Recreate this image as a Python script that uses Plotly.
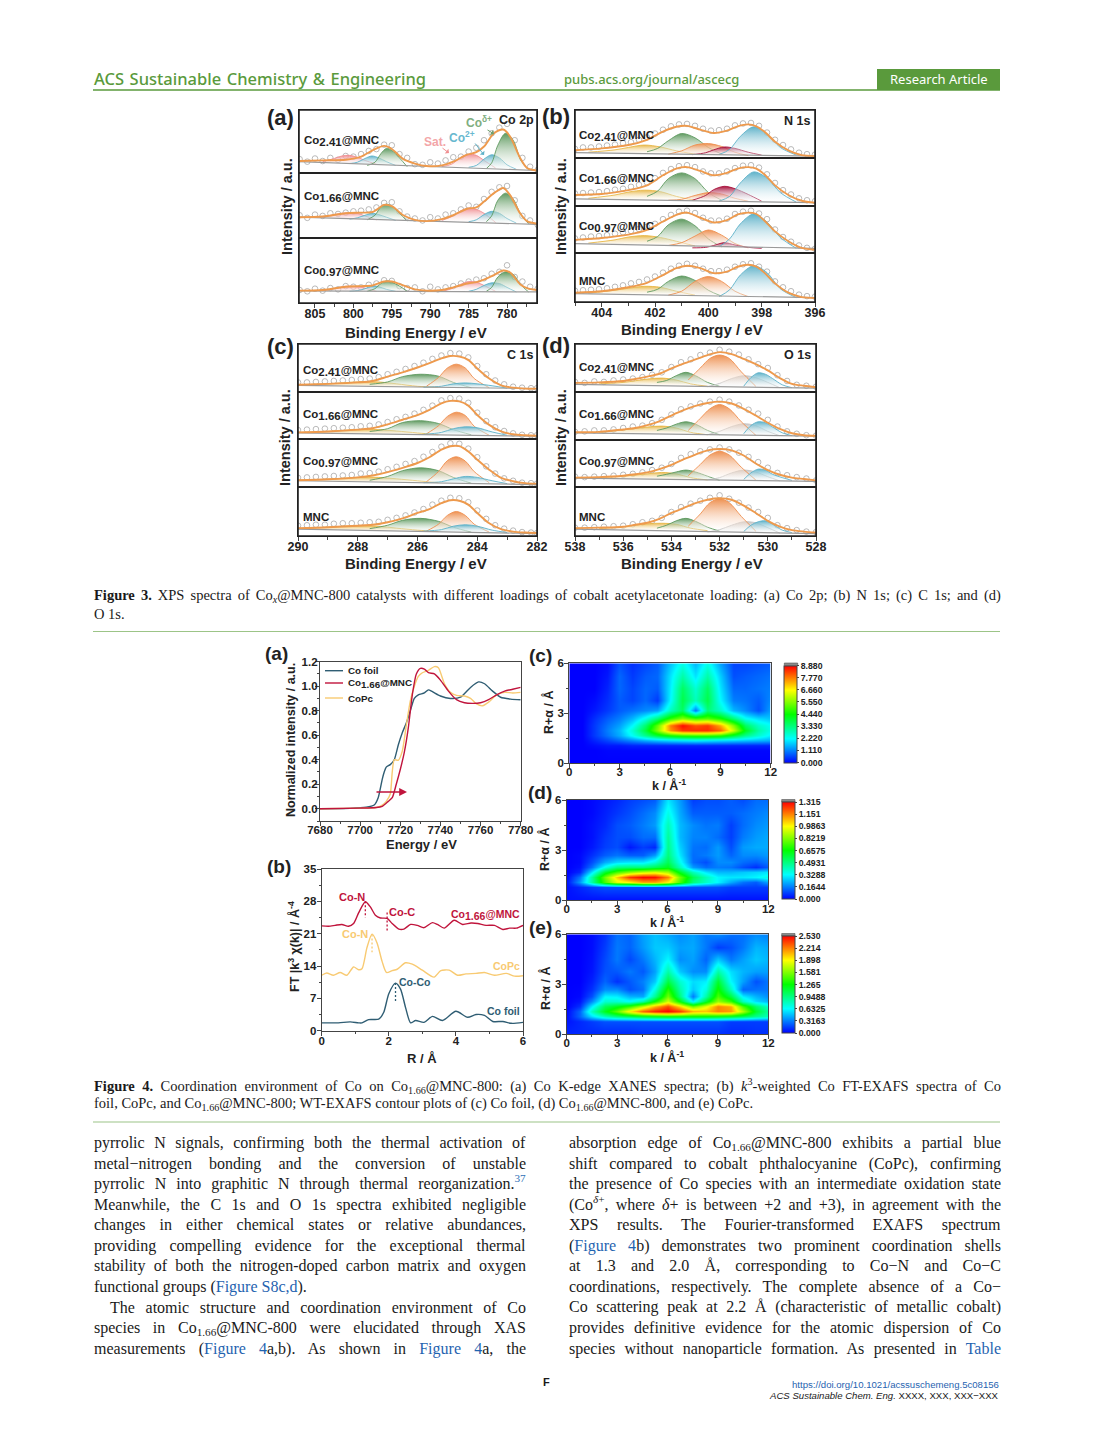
import plotly.graph_objects as go

W, H = 1094, 1442
# ---------- Figure 3 (a) Co 2p, y in % of row height ----------
A_FIT_X = [807,804,801,799,797.5,796,795,793.5,792,790.5,788.5,787,785.2,784,783,781.7,780.5,779.6,778.3,777.4,776.1]
A1_FIT = [19,20,21,26,36,43,38,22,15,11,12,18,29,33,42,63,69,58,24,8,4]
A2_FIT = [32,33,38,39,40,51,49,35,28,26,29,35,45,47,56,69,77,66,38,26,22]
A3_FIT = [19,20,25,26,27,33,33,27,21,19,20,24,30,32,36,43,50,47,29,23,20]
A_RAW_X = [807,806,805,804,803,802,801,800,799,798,797,796,795,794,793,792,791,790,789,788,787,786,785,784,783,782,781,780,779,778,777,776]
A1_RAW = [22,18,23,19,24,21,27,26,30,35,38,45,44,30,24,14,13,17,15,20,25,26,34,40,52,63,72,78,52,24,10,5]
A2_RAW = [35,31,36,34,38,37,39,41,42,44,47,54,55,41,33,30,27,32,30,36,38,44,50,48,60,71,78,80,58,34,27,20]
A3_RAW = [20,18,22,19,23,21,26,25,24,28,30,35,34,26,23,24,18,25,21,24,26,30,33,36,38,45,48,58,40,33,25,22]
A_BASE_X = [807.08,776.1]
A1_BASE = [18,4]
A2_BASE = [32,21]
A3_BASE = [18.5,17]
A_SAT1_X = [804,802.5,801.5,800.5,799.5,798.5,797]
A1_SAT1 = [18,23,27,28,25,20,14]
A2_SAT1 = [32,36,38,39,38,34,28]
A3_SAT1 = [19,22,25,26,25,23,18]
A_BLU1_X = [800.5,799.5,798.5,797.6,796.7,795.7,794.5]
A1_BLU1 = [15,17,23,27,24,18,12]
A2_BLU1 = [29,31,35,38,36,32,27]
A3_BLU1 = [18,19,22,26,25,21,18]
A_GRN1_X = [798.2,797.2,796.4,795.7,795,794,793]
A1_GRN1 = [12,17,31,39,36,24,10]
A2_GRN1 = [28,35,48,52,49,38,26]
A3_GRN1 = [18,22,30,34,32,26,18]
A_SAT2_X = [788.5,787.2,786,785,784,783,781.5]
A1_SAT2 = [10,14,25,30,28,20,8]
A2_SAT2 = [27,33,42,46,44,38,24]
A3_SAT2 = [18,22,29,33,32,27,18]
A_BLU2_X = [785,784,783,782,781,780,778.8]
A1_BLU2 = [9,12,22,29,24,13,6]
A2_BLU2 = [25,28,36,41,38,30,23]
A3_BLU2 = [18,21,27,31,30,24,17]
A_GRN2_X = [782.7,782,781.2,780.2,779.2,778.2,777.2]
A1_GRN2 = [7,16,44,63,52,20,5]
A2_GRN2 = [25,34,58,69,60,36,22]
A3_GRN2 = [18,24,40,48,44,28,17]
# ---------- (b) N 1s ----------
B_FIT_X = [405,404,403,402.3,401.7,401.2,400.8,400.3,399.8,399.3,398.9,398.5,398.2,397.9,397.5,397,396.5,396]
B1_FIT = [16,20,27,38,55,65,67,59,52,57,66,70,66,55,34,16,6,4]
B2_FIT = [23,25,33,43,64,78,81,73,64,69,78,81,78,66,43,23,11,7]
B3_FIT = [28,32,39,49,67,81,86,75,65,70,82,86,83,69,46,25,11,7]
B4_FIT = [19,22,30,39,55,69,74,69,59,62,72,76,72,60,38,19,10,8]
B_RAW_X = [405,404.7,404.4,404.1,403.8,403.5,403.2,402.9,402.6,402.3,402,401.7,401.4,401.1,400.8,400.5,400.2,399.9,399.6,399.3,399,398.7,398.4,398.1,397.8,397.5,397.2,396.9,396.6,396.3,396]
B1_RAW = [19,22,22,24,26,28,31,33,38,43,51,59,66,70,71,67,61,57,58,61,68,72,73,67,53,38,27,18,11,8,7]
B2_RAW = [26,27,28,29,31,34,36,40,44,49,58,69,77,83,85,81,72,68,68,72,79,84,85,80,66,48,33,24,16,12,10]
B3_RAW = [31,33,35,36,38,41,44,47,51,56,62,72,81,88,90,85,75,69,69,73,83,88,90,84,72,50,34,24,16,11,9]
B4_RAW = [23,24,25,26,28,31,34,38,41,46,52,60,68,74,78,74,68,63,63,66,72,77,79,72,62,42,30,22,15,12,11]
B_BASE_X = [405,396]
B1_BASE = [11,4]
B2_BASE = [15,7]
B3_BASE = [20,10]
B4_BASE = [17,9]
B_GOLD_X = [404.5,403.5,403,402.4,401.8,401.2,400.5]
B1_GOLD = [12,17,22,27,23,15,8]
B2_GOLD = [16,23,29,33,30,20,12]
B3_GOLD = [21,28,34,37,33,25,15]
B4_GOLD = [18,24,28,32,30,22,14]
B_GRN_X = [402.3,401.9,401.5,401,400.5,400,399.5]
B1_GRN = [13,20,36,51,42,22,8]
B2_GRN = [20,31,57,69,57,28,12]
B3_GRN = [25,35,60,72,58,30,13]
B4_GRN = [20,26,42,53,44,24,12]
B_ORG_X = [401.5,401,400.5,400,399.5,399,398.5]
B1_ORG = [8,15,27,30,24,12,5]
B2_ORG = [12,14,22,28,25,16,10]
B3_ORG = [16,22,36,49,38,20,11]
B4_ORG = [14,22,42,52,42,22,11]
B_RED_X = [400.6,400.1,399.8,399.4,399,398.5,398]
B1_RED = [7,11,17,23,20,12,6]
B2_RED = [12,22,34,41,36,24,10]
B3_RED = [11,12,16,22,17,12,10]
B_BLU_X = [399.6,399.2,398.8,398.3,397.8,397.3,396.7]
B1_BLU = [7,18,45,65,50,22,6]
B2_BLU = [10,20,48,71,58,28,8]
B3_BLU = [13,30,62,83,66,33,10]
B4_BLU = [11,25,55,74,60,27,9]
# ---------- (c) C 1s ----------
C_FIT_X = [290,289,288,287.5,287,286.5,286,285.6,285.2,284.9,284.6,284.3,284,283.6,283.2,282.8,282.4,282]
C1_FIT = [15,17,20,23,32,41,51,60,70,75,74,67,49,28,14,9,7,7]
C2_FIT = [14,16,20,23,31,41,51,62,76,81,80,71,51,30,16,10,8,7]
C3_FIT = [14,16,20,24,31,40,50,62,78,85,85,74,57,36,19,12,8,7]
C4_FIT = [16,18,21,23,28,36,47,55,67,73,72,64,47,26,14,9,7,6]
C_RAW_X = [290,289.7,289.4,289.1,288.8,288.5,288.2,287.9,287.6,287.3,287,286.7,286.4,286.1,285.8,285.5,285.2,284.9,284.6,284.3,284,283.7,283.4,283.1,282.8,282.5,282.2,282]
C1_RAW = [20,20,21,22,23,24,25,27,28,31,37,42,48,54,61,69,76,81,80,72,54,37,24,16,11,9,8,8]
C2_RAW = [19,20,21,22,23,24,25,27,28,31,36,42,47,54,62,71,82,87,86,77,56,38,25,17,12,9,8,8]
C3_RAW = [19,20,21,22,23,24,25,28,29,32,37,42,48,54,63,73,84,91,90,80,62,43,28,18,13,9,8,7]
C4_RAW = [21,22,23,23,25,26,26,27,28,29,33,37,42,48,55,64,72,78,77,69,52,35,22,15,11,8,7,6]
C_BASE_X = [290,282]
C1_BASE = [14,7]
C2_BASE = [13,6]
C3_BASE = [13,5]
C4_BASE = [14,5]
C_GOLD_X = [290,289,288,287.3,286.7,286,285.3]
C1_GOLD = [15,17,21,21,17,12,10]
C2_GOLD = [14,16,20,20,17,13,9]
C3_GOLD = [14,16,20,20,17,13,9]
C4_GOLD = [15,18,21,20,16,12,9]
C_GRN_X = [287.6,287,286.5,285.9,285.3,284.8,284.2]
C1_GRN = [16,21,32,37,33,20,9]
C2_GRN = [16,22,35,39,33,20,9]
C3_GRN = [14,22,34,40,34,20,8]
C4_GRN = [15,22,32,36,30,18,8]
C_ORG_X = [285.7,285.3,285,284.7,284.4,284.1,283.6]
C1_ORG = [12,30,50,58,50,28,9]
C2_ORG = [11,28,48,57,50,27,8]
C3_ORG = [11,32,55,63,54,32,9]
C4_ORG = [10,24,42,50,42,24,8]
C_BLU_X = [285.8,285.2,284.8,284.4,284,283.5,283]
C1_BLU = [10,12,17,19,17,13,8]
C2_BLU = [10,14,22,26,24,15,8]
C3_BLU = [9,11,17,22,20,13,7]
C4_BLU = [10,13,20,23,20,12,7]
# ---------- (d) O 1s ----------
D_FIT_X = [538,537,536,535.5,535,534.5,534,533.5,533,532.5,532,531.5,531,530.5,530,529.5,529,528.5,528]
D1_FIT = [19,20,23,27,32,38,49,59,68,77,83,79,69,58,45,29,17,13,10]
D2_FIT = [16,17,22,25,31,39,51,62,71,77,80,76,65,51,36,23,14,10,9]
D3_FIT = [20,21,24,27,31,38,47,59,69,78,81,78,67,50,36,26,20,17,14]
D4_FIT = [16,17,19,23,27,35,47,57,67,74,77,74,62,47,31,19,12,9,7]
D_RAW_X = [538,537.6,537.2,536.8,536.4,536,535.6,535.2,534.8,534.4,534,533.6,533.2,532.8,532.4,532,531.6,531.2,530.8,530.4,530,529.6,529.2,528.8,528.4,528]
D1_RAW = [21,19,22,21,24,26,28,31,36,41,52,62,68,77,82,88,84,78,68,58,50,35,23,15,13,11]
D2_RAW = [17,18,20,20,22,25,28,30,35,42,53,64,70,76,80,84,80,72,63,55,42,28,18,13,10,9]
D3_RAW = [22,21,22,23,24,26,28,31,36,41,49,62,70,76,80,84,80,73,64,53,41,30,25,21,18,14]
D4_RAW = [17,17,18,19,20,21,24,28,31,37,49,59,66,72,78,83,76,68,58,49,37,22,16,12,9,8]
D_BASE_X = [538,528]
D1_BASE = [16,8]
D2_BASE = [15,8]
D3_BASE = [19,12]
D4_BASE = [14,5]
D_GOLD_X = [537,536,535,534.4,533.8,533.2,532.5]
D1_GOLD = [17,20,27,29,25,17,12]
D2_GOLD = [16,21,27,29,25,16,11]
D3_GOLD = [20,23,28,31,28,20,15]
D4_GOLD = [15,19,25,26,24,16,11]
D_GRN_X = [534.6,534.2,533.8,533.4,533,532.5,532]
D1_GRN = [20,24,34,41,34,20,12]
D2_GRN = [20,25,33,38,33,20,11]
D3_GRN = [23,27,32,36,32,23,14]
D4_GRN = [16,22,31,36,30,18,10]
D_GRY_X = [532.5,532,531.5,531,530.5,530,529.5]
D1_GRY = [11,18,28,34,30,20,9]
D2_GRY = [11,18,28,34,30,18,9]
D3_GRY = [15,20,30,36,32,22,13]
D4_GRY = [8,13,22,29,27,17,6]
D_ORG_X = [533.3,532.8,532.4,532,531.6,531.1,530.5]
D1_ORG = [25,50,70,77,70,42,12]
D2_ORG = [20,45,65,74,65,38,10]
D3_ORG = [24,48,68,76,68,42,15]
D4_ORG = [20,45,68,76,68,40,10]
D_BLU_X = [531,530.7,530.4,530.1,529.8,529.4,529]
D1_BLU = [12,30,40,37,28,15,9]
D2_BLU = [13,30,38,36,27,15,9]
D3_BLU = [16,30,38,36,27,20,14]
D4_BLU = [9,22,29,31,24,12,7]
# ---------- Figure 4 (a) XANES ----------
FOIL_E = [7680,7695,7703,7707,7709,7710,7711,7712,7713,7715,7717,7719,7721,7723,7725,7727,7729,7732,7734,7736,7740,7745,7750,7755,7759,7762,7766,7770,7775,7780]
FOIL_MU = [0,.003,.012,.03,.09,.16,.24,.30,.34,.36,.40,.52,.62,.70,.80,.90,.93,.945,.97,.955,.92,.90,.91,.99,1.035,1.02,.96,.91,.895,.89]
CAT_E = [7680,7700,7708,7711,7714,7716,7718,7720,7722,7724,7726,7728,7730,7732,7734,7737,7740,7744,7748,7752,7756,7760,7764,7768,7772,7776,7780]
CAT_MU = [0,.005,.01,.02,.06,.09,.2,.32,.46,.66,.93,1.1,1.145,1.14,1.11,1.10,1.05,.96,.89,.865,.86,.865,.89,.93,.96,.975,.99]
PC_E = [7680,7700,7708,7711,7713,7715,7716,7717,7719,7721,7723,7725,7727,7729,7731,7734,7737,7739,7742,7745,7748,7752,7755,7758,7761,7764,7768,7772,7776,7780]
PC_MU = [0,.005,.01,.03,.06,.12,.3,.40,.395,.47,.68,.88,1.0,1.08,1.11,1.13,1.16,1.15,1.02,.95,.925,.92,.90,.855,.84,.87,.93,.95,.945,.95]
# ---------- Figure 4 (b) FT-EXAFS ----------
CAT_R = [0,.2,.4,.6,.8,.95,1.1,1.3,1.45,1.6,1.75,1.95,2.1,2.3,2.45,2.65,2.85,3.05,3.3,3.45,3.65,3.95,4.2,4.45,4.65,4.9,5.15,5.4,5.6,5.8,6]
CAT_FT = [22.7,22.6,22.8,23,22.6,23.2,25.5,27.9,26.8,25,24.4,24.3,23.2,22,22,23,22.8,22.3,23.4,23,22.2,23.9,23,23.3,23.2,22.8,22.8,21.9,22.2,22.2,22.8]
PC_R = [0,.15,.35,.55,.75,.95,1.1,1.2,1.35,1.5,1.65,1.8,1.93,2.1,2.25,2.5,2.7,3,3.35,3.55,3.8,4.05,4.3,4.6,4.85,5.15,5.5,5.75,6]
PC_FT = [12,12.5,12,12.6,12,13.8,13.2,13.4,18,20.9,19,15,12.6,13,13.3,14.7,14.4,13.1,11.6,13,13.1,12,12.3,12.4,12.6,12,12.4,11.8,11.9]
FOIL_R = [0,.5,.85,1.1,1.2,1.4,1.7,1.85,2,2.2,2.35,2.5,2.65,2.8,3.05,3.3,3.6,4,4.35,4.6,4.85,5.1,5.4,5.65,6]
FOIL_FT = [1.7,1.7,1.9,1.7,1.7,2.4,2.5,4,8,10.3,9,5,1.7,2.2,1.8,3.1,2.2,4.2,2.9,3.5,3.3,2,2,1.6,1.8]
DROP_CON_R = [1.3,1.3]
DROP_CON_Y = [28,24.5]
DROP_COC_R = [1.95,1.95]
DROP_COC_Y = [25.6,21.5]
DROP_PC_R = [1.5,1.5]
DROP_PC_Y = [20.8,17]
DROP_FOIL_R = [2.2,2.2]
DROP_FOIL_Y = [10.3,6.3]
# ---------- Figure 4 (c,d,e) wavelet maps ----------
WT_K = [0,.75,1.5,2.25,3,3.75,4.5,5.25,6,6.75,7.5,8.25,9,9.75,10.5,11.25,12]
WT_R = [0,.8,1.1,1.4,1.7,2.0,2.3,2.7,3.2,3.8,4.5,5.2,6]
WT_C = [
[0,0,0,0,0,0,0,0,0,0,0,0,0,0,0,0,0],
[0,0,0,.05,.05,.05,.05,.05,.05,.05,.05,.05,.05,.05,.05,.05,.05],
[0,0,.1,.2,.2,.3,.3,.3,.3,.3,.3,.3,.3,.3,.3,.3,.3],
[0,0,.3,.6,.9,1.2,1.5,1.7,1.9,2.0,2.1,2.0,1.9,1.8,1.7,1.6,1.5],
[0,0,.5,1.0,1.5,2.3,3.2,4.0,4.6,4.9,5.0,5.0,4.8,4.0,3.2,2.6,2.1],
[0,0,.5,1.1,1.6,2.6,3.9,5.6,7.6,8.4,8.5,8.5,8.0,6.2,4.2,3.0,2.4],
[0,0,.5,1.0,1.4,2.2,3.5,5.3,7.8,8.8,8.2,8.4,7.4,5.6,3.6,2.7,2.3],
[0,0,.4,.8,1.1,1.6,2.4,3.4,4.8,5.6,5.0,5.2,4.6,3.4,2.3,1.9,1.7],
[0,0,.2,.5,.8,1.0,1.2,1.4,2.8,3.6,1.0,3.4,2.7,1.6,1.2,.7,1.4],
[0,0,.1,.4,.8,.6,.9,.5,2.2,3.8,2.8,3.8,2.2,1.1,1.0,.8,1.2],
[0,0,0,.3,.9,.6,.9,.8,2.1,3.6,2.6,3.6,2.0,.9,.9,1.0,1.1],
[0,0,0,.2,.9,.5,.8,.9,2.0,3.0,2.0,3.0,1.8,.7,.8,.9,1.0],
[0,0,0,.1,.7,.4,.6,.8,1.7,2.4,1.6,2.4,1.4,.6,.6,.7,.8]]
WT_D = [
[.02,.02,.02,.02,.02,.02,.02,.02,.02,.02,.02,.02,.02,.02,.02,.02,.02],
[.02,.05,.08,.1,.1,.1,.1,.1,.1,.1,.1,.1,.1,.08,.08,.08,.08],
[.02,.2,.45,.75,.95,1.0,1.1,1.1,1.0,.75,.5,.4,.32,.22,.15,.12,.22],
[.01,.15,.45,.8,1.05,1.25,1.31,1.3,1.15,.8,.55,.42,.32,.3,.3,.32,.36],
[0,.05,.3,.6,.75,.85,.92,.95,.88,.62,.42,.3,.24,.24,.26,.28,.3],
[0,.02,.15,.35,.48,.5,.5,.55,.62,.42,.2,.14,.16,.15,.1,.06,.12],
[0,.01,.1,.22,.28,.3,.3,.38,.55,.35,.14,.1,.18,.18,.14,.12,.16],
[0,.01,.06,.12,.15,.12,.12,.2,.5,.3,.14,.16,.2,.13,.18,.18,.2],
[0,0,.03,.08,.1,.03,.08,.05,.48,.27,.15,.14,.2,.1,.2,.22,.22],
[0,0,.02,.07,.1,.1,.14,.14,.46,.24,.17,.17,.14,.08,.16,.2,.22],
[0,0,.02,.05,.1,.12,.16,.2,.42,.24,.18,.15,.16,.08,.14,.18,.2],
[0,0,.01,.04,.07,.1,.14,.18,.36,.22,.12,.12,.12,.12,.14,.16,.18],
[0,0,.01,.03,.05,.08,.1,.12,.3,.2,.08,.1,.1,.12,.1,.14,.14]]
WT_E = [
[.1,.1,.1,.1,.1,.1,.12,.12,.12,.12,.12,.12,.12,.1,.1,.12,.12],
[.05,.1,.15,.2,.2,.2,.2,.2,.2,.2,.2,.2,.2,.15,.15,.15,.15],
[.03,.25,.55,.8,.95,1.05,1.15,1.2,1.25,1.25,1.25,1.25,1.2,1.15,1.05,.9,.8],
[.02,.25,.8,1.2,1.5,1.95,2.3,2.45,2.53,2.4,2.1,2.05,2.2,2.15,1.7,1.15,.85],
[0,.12,.6,1.05,1.2,1.4,1.75,2.1,2.35,2.0,1.55,1.85,2.2,2.1,1.45,1.0,.75],
[0,.05,.35,.75,.75,.65,.85,1.3,1.8,1.25,.6,1.15,1.65,1.4,.8,.55,.45],
[0,.02,.2,.62,.6,.45,.42,.9,1.55,.95,.3,.85,1.45,1.1,.6,.45,.35],
[0,.01,.12,.35,.35,.2,.28,.7,1.35,.85,.5,.7,1.3,.8,.25,.28,.3],
[0,0,.08,.25,.12,.22,.32,.5,1.1,.75,.55,.6,1.15,.62,.4,.2,.3],
[0,0,.05,.2,.22,.3,.22,.4,.85,.5,.35,.35,.85,.55,.45,.4,.4],
[0,0,.04,.18,.3,.18,.3,.45,.62,.35,.4,.25,.5,.3,.4,.5,.45],
[0,0,.03,.15,.3,.25,.38,.5,.5,.4,.42,.3,.15,.2,.3,.45,.42],
[0,0,.03,.12,.28,.25,.4,.48,.42,.35,.4,.3,.35,.28,.28,.35,.32]]
CB_C = ["0.000","1.110","2.220","3.330","4.440","5.550","6.660","7.770","8.880"]
CB_D = ["0.000","0.1644","0.3288","0.4931","0.6575","0.8219","0.9863","1.151","1.315"]
CB_E = ["0.000","0.3163","0.6325","0.9488","1.265","1.581","1.898","2.214","2.530"]
# ---------- page text ----------
BODY_L = ["pyrrolic N signals, confirming both the thermal activation of",
 "metal−nitrogen bonding and the conversion of unstable",
 "pyrrolic N into graphitic N through thermal reorganization.<sup><span style='color:#2f6fb5'>37</span></sup>",
 "Meanwhile, the C 1s and O 1s spectra exhibited negligible",
 "changes in either chemical states or relative abundances,",
 "providing compelling evidence for the exceptional thermal",
 "stability of both the nitrogen-doped carbon matrix and oxygen",
 "functional groups (<span style='color:#1f63b0'>Figure S8c,d</span>).",
 "The atomic structure and coordination environment of Co",
 "species in Co<sub>1.66</sub>@MNC-800 were elucidated through XAS",
 "measurements (<span style='color:#1f63b0'>Figure 4</span>a,b). As shown in <span style='color:#1f63b0'>Figure 4</span>a, the"]
BODY_R = ["absorption edge of Co<sub>1.66</sub>@MNC-800 exhibits a partial blue",
 "shift compared to cobalt phthalocyanine (CoPc), confirming",
 "the presence of Co species with an intermediate oxidation state",
 "(Co<sup><i>δ</i>+</sup>, where <i>δ</i>+ is between +2 and +3), in agreement with the",
 "XPS results. The Fourier-transformed EXAFS spectrum",
 "(<span style='color:#1f63b0'>Figure 4</span>b) demonstrates two prominent coordination shells",
 "at 1.3 and 2.0 Å, corresponding to Co−N and Co−C",
 "coordinations, respectively. The complete absence of a Co−",
 "Co scattering peak at 2.2 Å (characteristic of metallic cobalt)",
 "provides definitive evidence for the atomic dispersion of Co",
 "species without nanoparticle formation. As presented in <span style='color:#1f63b0'>Table</span>"]
BODY_Y = [1143,1164,1184,1205,1225,1246,1266,1287,1307,1328,1349]

# ---------- helpers ----------
SANS = "Liberation Sans"
SERIF = "Liberation Serif"
INK = "#222222"
PINK, BLUE, GREEN, ORANGE, CRIM, GOLD, GREY = "#f08f92", "#5fb2c9", "#5f9a60", "#ee9050", "#a8123c", "#e8b84a", "#c4c4c4"
FITC = "#ee9a4d"
FOILC, CATC, PCC = "#2f5d73", "#c0143c", "#f8ca72"
fig = go.Figure()
anns, shapes = [], []
def X(p): return p / W
def Y(p): return 1 - p / H
def T(text, x, y, size=12, color=INK, bold=True, anchor="center", rot=0, fam=SANS, just=None):
    weight = bold if isinstance(bold, int) and not isinstance(bold, bool) else ("bold" if bold else "normal")
    d = dict(text=text, x=X(x), y=Y(y), xref="paper", yref="paper", showarrow=False, xanchor=anchor, yanchor="middle",
             align=anchor, textangle=rot, borderpad=0,
             font=dict(family=fam, size=size, color=color, weight=weight))
    if just: d["name"] = "J%g" % just
    anns.append(d)
def line(x0, y0, x1, y1, color, w=1):
    shapes.append(dict(type="line", xref="paper", yref="paper", x0=X(x0), x1=X(x1), y0=Y(y0), y1=Y(y1), line=dict(color=color, width=w)))
def arrow(x0, y0, x1, y1, color, w=1, hs=1, size=1):
    anns.append(dict(text="", x=X(x1), y=Y(y1), xref="paper", yref="paper", ax=x0-x1, ay=y0-y1, showarrow=True,
                     arrowcolor=color, arrowwidth=w, arrowhead=hs, arrowsize=size))
nax = [0]
def axes(l, r, t, b, xr, yr, xkw=None, ykw=None):
    nax[0] += 1
    i = nax[0]
    tf = dict(family=SANS, size=12.5, color=INK, weight="bold")
    xa = dict(domain=[X(l), X(r)], range=xr, anchor="y%d" % i, showgrid=False, zeroline=False, showline=True, mirror=True,
              linecolor=INK, linewidth=1, ticks="", showticklabels=False, tickfont=tf)
    ya = dict(domain=[Y(b), Y(t)], range=yr, anchor="x%d" % i, showgrid=False, zeroline=False, showline=True, mirror=True,
              linecolor=INK, linewidth=1, ticks="", showticklabels=False, tickfont=tf)
    xa.update(xkw or {}); ya.update(ykw or {})
    fig.update_layout(**{"xaxis%d" % i: xa, "yaxis%d" % i: ya})
    return "x%d" % i, "y%d" % i

def rows(P, idx, l, r, ys, xr, comps, dtick, tick0, mdt):
    for k, ri in enumerate(idx):
        last = k == len(idx) - 1
        kw = dict(ticks="outside", ticklen=4, tickwidth=1.4, showticklabels=True, dtick=dtick, tick0=tick0, ticklabelstandoff=-5,
                  minor=dict(dtick=mdt, tick0=tick0, ticks="outside", ticklen=2.5, tickwidth=1)) if last else {}
        xa, ya = axes(l, r, ys[k], ys[k+1], xr, [0, 100], xkw=kw)
        g = globals()
        fig.add_trace(go.Scatter(x=g[P+"_RAW_X"], y=g["%s%d_RAW" % (P, ri)], xaxis=xa, yaxis=ya, mode="markers", showlegend=False,
                                 marker=dict(symbol="circle-open", size=5.6, color="#a8a8a8", line=dict(width=.8))))
        for name, c in comps:
            key = "%s%d_%s" % (P, ri, name)
            if key not in g: continue
            fig.add_trace(go.Scatter(x=g[P+"_"+name+"_X"], y=g[key], xaxis=xa, yaxis=ya, mode="lines", showlegend=False,
                                     line=dict(color=c, width=.9, shape="spline", smoothing=.9), fill="toself",
                                     fillgradient=dict(type="vertical", colorscale=[[0, "rgba(255,255,255,.25)"], [1, c]])))
        fig.add_trace(go.Scatter(x=g[P+"_BASE_X"], y=g["%s%d_BASE" % (P, ri)], xaxis=xa, yaxis=ya, mode="lines", showlegend=False,
                                 line=dict(color="#9a9a9a", width=1.2)))
        fig.add_trace(go.Scatter(x=g[P+"_FIT_X"], y=g["%s%d_FIT" % (P, ri)], xaxis=xa, yaxis=ya, mode="lines", showlegend=False,
                                 line=dict(color=FITC, width=1.9, shape="spline", smoothing=.8)))
    shapes.append(dict(type="rect", xref="paper", yref="paper", x0=X(l), x1=X(r), y0=Y(ys[-1]), y1=Y(ys[0]), line=dict(color=INK, width=1.6)))

rows("A", [1,2,3], 299, 537, [110,173,238,303], [807.08,776.1],
     [("SAT1",PINK),("BLU1",BLUE),("GRN1",GREEN),("SAT2",PINK),("BLU2",BLUE),("GRN2",GREEN)], 5, 780, 2.5)
rows("B", [1,2,3,4], 575, 815, [110,158,206,253,302], [405,396],
     [("GOLD",GOLD),("GRN",GREEN),("ORG",ORANGE),("RED",CRIM),("BLU",BLUE)], 2, 396, 1)
rows("C", [1,2,3,4], 298, 537, [344,392,439,487,536], [290,282],
     [("GOLD",GOLD),("GRN",GREEN),("ORG",ORANGE),("BLU",BLUE)], 2, 282, 1)
rows("D", [1,2,3,4], 575, 816, [344,392,440,487,536], [538,528],
     [("GOLD",GOLD),("GRN",GREEN),("GRY",GREY),("ORG",ORANGE),("BLU",BLUE)], 2, 528, 1)

# Figure 4a
kwx = dict(ticks="outside", ticklen=4, tickwidth=1.2, showticklabels=True, linewidth=1.2, linecolor="#444")
tf4 = dict(family=SANS, size=11.5, color=INK, weight="bold")
xa, ya = axes(320, 520.7, 661.7, 821, [7680,7780], [-.1,1.2],
              dict(kwx, dtick=20, tick0=7680, minor=dict(dtick=10, ticks="outside", ticklen=2), tickfont=tf4, ticklabelstandoff=-6),
              dict(kwx, dtick=.2, tick0=0, minor=dict(dtick=.1, ticks="outside", ticklen=2), tickfont=tf4, tickformat=".1f", ticklabelstandoff=-5))
for xs, ys, c in [(FOIL_E,FOIL_MU,FOILC),(PC_E,PC_MU,PCC),(CAT_E,CAT_MU,CATC)]:
    fig.add_trace(go.Scatter(x=xs, y=ys, xaxis=xa, yaxis=ya, mode="lines", showlegend=False, line=dict(color=c, width=1.4, shape="spline", smoothing=.6)))
# Figure 4b
xa, ya = axes(321.7, 523, 869, 1030.7, [0,6], [0,35],
              dict(kwx, dtick=2, tick0=0, minor=dict(dtick=1, ticks="outside", ticklen=2), tickfont=tf4, ticklabelstandoff=-5),
              dict(kwx, dtick=7, tick0=0, minor=dict(dtick=3.5, ticks="outside", ticklen=2), tickfont=tf4, ticklabelstandoff=-2))
for xs, ys, c in [(CAT_R,CAT_FT,CATC),(PC_R,PC_FT,PCC),(FOIL_R,FOIL_FT,FOILC)]:
    fig.add_trace(go.Scatter(x=xs, y=ys, xaxis=xa, yaxis=ya, mode="lines", showlegend=False, line=dict(color=c, width=1.4, shape="spline", smoothing=.7)))
for xs, ys, c in [(DROP_CON_R,DROP_CON_Y,CATC),(DROP_COC_R,DROP_COC_Y,CATC),(DROP_PC_R,DROP_PC_Y,PCC),(DROP_FOIL_R,DROP_FOIL_Y,FOILC)]:
    fig.add_trace(go.Scatter(x=xs, y=ys, xaxis=xa, yaxis=ya, mode="lines", showlegend=False, line=dict(color=c, width=1.3, dash="2px,2px")))
# Heat maps
RAINBOW = [[0,"#0000ff"],[.25,"#00ffff"],[.5,"#00ff00"],[.75,"#ffff00"],[1,"#ff0000"]]
for z, zmax, labels, (l,r,t,b), (cl,cr,ct,cb) in [
    (WT_C, 8.88, CB_C, (569.3,770.7,663.3,763.3), (784.3,797.7,665.5,762.5)),
    (WT_D, 1.315, CB_D, (566.7,768.3,800,900), (781.7,795,802,899)),
    (WT_E, 2.53, CB_E, (566.7,768.3,934.3,1034.3), (781.7,795,936,1033))]:
    xa, ya = axes(l, r, t, b, [0,12], [0,6],
                  dict(kwx, dtick=3, tick0=0, minor=dict(dtick=1.5, ticks="outside", ticklen=2), tickfont=tf4, ticks="outside", ticklabelstandoff=-6),
                  dict(kwx, dtick=3, tick0=0, minor=dict(dtick=1.5, ticks="outside", ticklen=2), tickfont=tf4, ticks="outside", ticklabelstandoff=-2))
    tv = [zmax * i / 8 for i in range(9)]
    fig.add_trace(go.Heatmap(x=WT_K, y=WT_R, z=z, xaxis=xa, yaxis=ya, zmin=0, zmax=zmax, zsmooth="best", colorscale=RAINBOW,
        colorbar=dict(x=X(cl), xanchor="left", xref="paper", y=Y(cb), yanchor="bottom", yref="paper", len=(cb-ct)/H, lenmode="fraction",
                      thickness=cr-cl, thicknessmode="pixels", xpad=0, ypad=0, outlinewidth=1, outlinecolor="#444", tickvals=tv, ticktext=labels,
                      ticks="outside", ticklen=2, tickwidth=1, tickfont=dict(family=SANS, size=8.7, color=INK, weight="bold"))))
    shapes.append(dict(type="rect", xref="paper", yref="paper", x0=X(cl), x1=X(cr), y0=Y(ct), y1=Y(ct-2.5), fillcolor="#8a8a8a", line=dict(color="#555", width=.6)))

# ---------- text ----------
def co(s): return "Co<sub><span style='font-size:11.5px'>%s</span></sub>@MNC" % s
for lab, x, y in [("(a)",280,118),("(b)",556,117),("(c)",280,346),("(d)",556,345)]:
    T(lab, x, y, 22)
for x, y in [(287,207),(561,207),(285,438),(561,438)]:
    T("Intensity / a.u.", x, y, 14.5, rot=-90)
for x, y in [(416,332),(692,329),(416,563),(692,563)]:
    T("Binding Energy / eV", x, y, 15)
for x, ys, labs in [(303,[141,197,271],["2.41","1.66","0.97"]),(578,[136,179,227],["2.41","1.66","0.97"]),
                    (302,[371,415,462],["2.41","1.66","0.97"]),(578,[368,415,462],["2.41","1.66","0.97"])]:
    for y, s in zip(ys, labs):
        T(co(s), x, y, 11.5, anchor="left")
T("MNC", 578, 281, 11.5, anchor="left"); T("MNC", 302, 517, 11.5, anchor="left"); T("MNC", 578, 517, 11.5, anchor="left")
T("Co 2p", 535, 120, 12.5, anchor="right"); T("N 1s", 811, 121, 12.5, anchor="right")
T("C 1s", 534, 355, 12.5, anchor="right"); T("O 1s", 812, 355, 12.5, anchor="right")
T("Co<sup>δ+</sup>", 479, 122, 12, color="#7fae7f"); T("Co<sup>2+</sup>", 462, 137, 12, color="#68b8cf"); T("Sat.", 435, 142, 12, color="#f3a6a8")
arrow(486,129,494,134,"#6f9f6f"); arrow(474,142,484,155,"#5fb2c9"); arrow(441,147,449,153,"#f08f92")

for lab, x, y in [("(a)",277,653),("(b)",279,867),("(c)",540,655),("(d)",540,792),("(e)",540,927)]:
    T(lab, x, y, 19)
T("Normalized intensity / a.u.", 291, 740, 12.5, rot=-90)
T("Energy / eV", 421, 844, 13)
T("FT |k<sup>3</sup> χ(k)| / Å<sup>-4</sup>", 294, 947, 12.5, rot=-90)
T("R / Å", 422, 1058, 13)
for x, y in [(548,713),(545,850),(545,989)]:
    T("R+α / Å", x, y, 12.5, rot=-90)
for x, y in [(669,785),(667,922),(667,1057)]:
    T("k / Å<sup>-1</sup>", x, y, 12.5)
T("Co foil", 347, 670.7, 9.8, anchor="left"); T("Co<sub><span style='font-size:9.8px'>1.66</span></sub>@MNC", 347, 683, 9.8, anchor="left"); T("CoPc", 347, 698, 9.8, anchor="left")
for y, c in [(670.7,FOILC),(683,CATC),(698,PCC)]:
    line(325, y, 343, y, c, 1.4)
arrow(375,792,407,792,CATC,1.3,2,1.2)
T("Co-N", 352, 897, 11, color=CATC); T("Co-C", 402, 912, 11, color=CATC)
T("Co<sub><span style='font-size:10.5px'>1.66</span></sub>@MNC", 521, 915, 10.5, color=CATC, anchor="right")
T("Co-N", 355, 934, 11, color=PCC); T("CoPc", 521, 966, 10.5, color=PCC, anchor="right")
T("Co-Co", 415, 982, 10.5, color=FOILC); T("Co foil", 521, 1011, 10.5, color=FOILC, anchor="right")

# header / footer
GR = "#5a9a3c"
T("ACS Sustainable Chemistry &amp; Engineering", 93, 78.5, 16.5, color=GR, anchor="left", fam="Noto Sans", bold=500, just=332)
T("pubs.acs.org/journal/ascecg", 563, 79.5, 13, color=GR, anchor="left", fam="Noto Sans", bold=500)
shapes.append(dict(type="rect", xref="paper", yref="paper", x0=X(877), x1=X(1000), y0=Y(90), y1=Y(69), fillcolor=GR, line=dict(width=0)))
T("Research Article", 938.5, 79.5, 13, color="#ffffff", fam="Noto Sans", bold=False)
line(93, 90, 1000, 90, GR, 1.6)
line(93, 631.5, 1000, 631.5, "#9cc487", 1.2)
line(93, 1122, 1000, 1122, "#9cc487", 1.2)
T("<b>Figure 3.</b> XPS spectra of Co<sub><i>x</i></sub>@MNC-800 catalysts with different loadings of cobalt acetylacetonate loading: (a) Co 2p; (b) N 1s; (c) C 1s; and (d)",
  93, 596, 14.5, color="#1a1a1a", bold=False, anchor="left", fam=SERIF, just=907)
T("O 1s.", 93, 614, 14.5, color="#1a1a1a", bold=False, anchor="left", fam=SERIF)
T("<b>Figure 4.</b> Coordination environment of Co on Co<sub>1.66</sub>@MNC-800: (a) Co K-edge XANES spectra; (b) <i>k</i><sup>3</sup>-weighted Co FT-EXAFS spectra of Co",
  93, 1086, 14.5, color="#1a1a1a", bold=False, anchor="left", fam=SERIF, just=907)
T("foil, CoPc, and Co<sub>1.66</sub>@MNC-800; WT-EXAFS contour plots of (c) Co foil, (d) Co<sub>1.66</sub>@MNC-800, and (e) CoPc.",
  93, 1104, 14.5, color="#1a1a1a", bold=False, anchor="left", fam=SERIF)
for i, (s, y) in enumerate(zip(BODY_L, BODY_Y)):
    x0 = 109 if i == 8 else 93
    T(s, x0, y - (1.5 if i == 2 else 0), 16, color="#1a1a1a", bold=False, anchor="left", fam=SERIF, just=None if i == 7 else 525 - x0)
for i, (s, y) in enumerate(zip(BODY_R, BODY_Y)):
    T(s, 568, y - (2 if i == 3 else 0), 16, color="#1a1a1a", bold=False, anchor="left", fam=SERIF, just=432)
T("F", 546, 1382, 11, color="#1a1a1a", fam=SANS)
T("https://doi.org/10.1021/acssuschemeng.5c08156", 1000, 1384, 9.6, color="#1f63b0", bold=False, anchor="right")
T("<i>ACS Sustainable Chem. Eng.</i> XXXX, XXX, XXX−XXX", 1000, 1395, 9.6, color="#1a1a1a", bold=False, anchor="right")

fig.update_layout(width=W, height=H, margin=dict(l=0, r=0, t=0, b=0, autoexpand=False), paper_bgcolor="white", plot_bgcolor="white",
                  showlegend=False, hovermode=False, annotations=anns, shapes=shapes)
JS = """
document.body.style.margin='0';
var gd=document.getElementById('{plot_id}');
document.querySelectorAll('.annotation').forEach(function(a){
  var i=+a.getAttribute('data-index'); var c=gd.layout.annotations[i]; var n=(c&&c.name)||'';
  if(n.charAt(0)==='J'){ var t=a.querySelector('text'); var w=parseFloat(n.slice(1));
    var k=t.textContent.split(' ').length-1; if(k>0){ t.style.wordSpacing=((w-t.getBBox().width)/k)+'px'; } }
});
"""
fig.write_html("out.html", post_script=JS, config=dict(displayModeBar=False))
